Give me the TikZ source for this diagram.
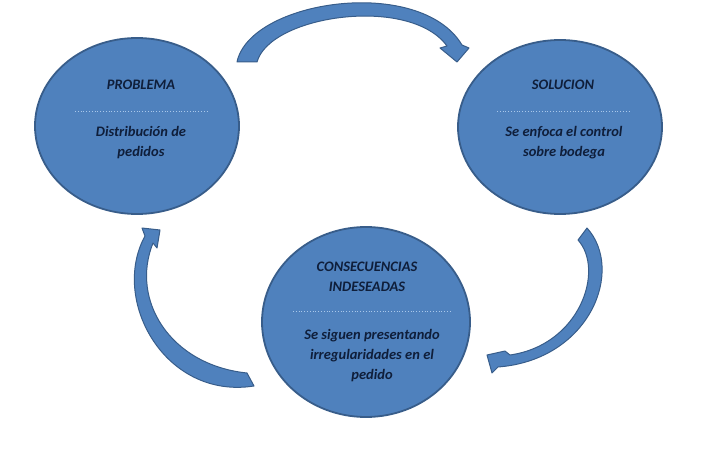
\documentclass[tikz,border=0pt]{standalone}
\usepackage{fontspec}
\setmainfont{Carlito}
\usetikzlibrary{shapes.geometric}
\definecolor{ovalfill}{HTML}{4F81BD}
\definecolor{ovaledge}{HTML}{385D8A}
\definecolor{inktext}{HTML}{0F1E3A}
\definecolor{sepline}{HTML}{A9C7EA}
\tikzset{
  oval/.style={ellipse, fill=ovalfill, draw=ovaledge, line width=1.8pt, inner sep=0pt},
  txt/.style={font=\fontsize{14.5}{20}\selectfont\bfseries\itshape, text=inktext, align=center},
  sepdots/.style={sepline, dotted, line width=0.8pt},
  blockarrow/.style={fill=ovalfill, draw=ovaledge, line width=1pt, line join=round}
}
\begin{document}
\begin{tikzpicture}[x=1pt,y=-1pt]
  \useasboundingbox (0,0) rectangle (717,454);

  % the three ovals
  \node[oval, minimum width=204pt, minimum height=176pt] (prob) at (137,126) {};
  \node[oval, minimum width=204pt, minimum height=174pt] (sol) at (560,127) {};
  \node[oval, minimum width=208pt, minimum height=190pt] (cons) at (366,322) {};

  % texts
  \node[txt] (probtit) at (141,85) {PROBLEMA};
  \draw[sepdots] (75,111) -- (208,111);
  \node[txt] (probtxt) at (141,143) {Distribución de\\pedidos};

  \node[txt] (soltit) at (563,85) {SOLUCION};
  \draw[sepdots] (497,111) -- (630,111);
  \node[txt] (soltxt) at (564,143) {Se enfoca el control\\sobre bodega};

  \node[txt] (constit) at (367,277) {CONSECUENCIAS\\INDESEADAS};
  \draw[sepdots] (293,311) -- (452,311);
  \node[txt] (constxt) at (372,356) {Se siguen presentando\\irregularidades en el\\pedido};

  % curved arrows
  \draw[blockarrow] (237,62) .. controls (250,0) and (420,-25) .. (462,45)
    -- (469,48) -- (457,62) -- (440,48) -- (447,46)
    .. controls (410,-5) and (270,15) .. (257,62) -- cycle;
  \draw[blockarrow] (587,228) .. controls (625,270) and (590,360) .. (498,367)
    -- (492,373) -- (487,355) -- (505,351) -- (510,355)
    .. controls (580,345) and (605,270) .. (578,240) -- cycle;
  \draw[blockarrow] (254,386) .. controls (165,400) and (110,300) .. (145,236)
    -- (142,228) -- (160,230) -- (157,248) -- (153,243)
    .. controls (130,300) and (170,365) .. (247,373) -- cycle;
\end{tikzpicture}
\end{document}
